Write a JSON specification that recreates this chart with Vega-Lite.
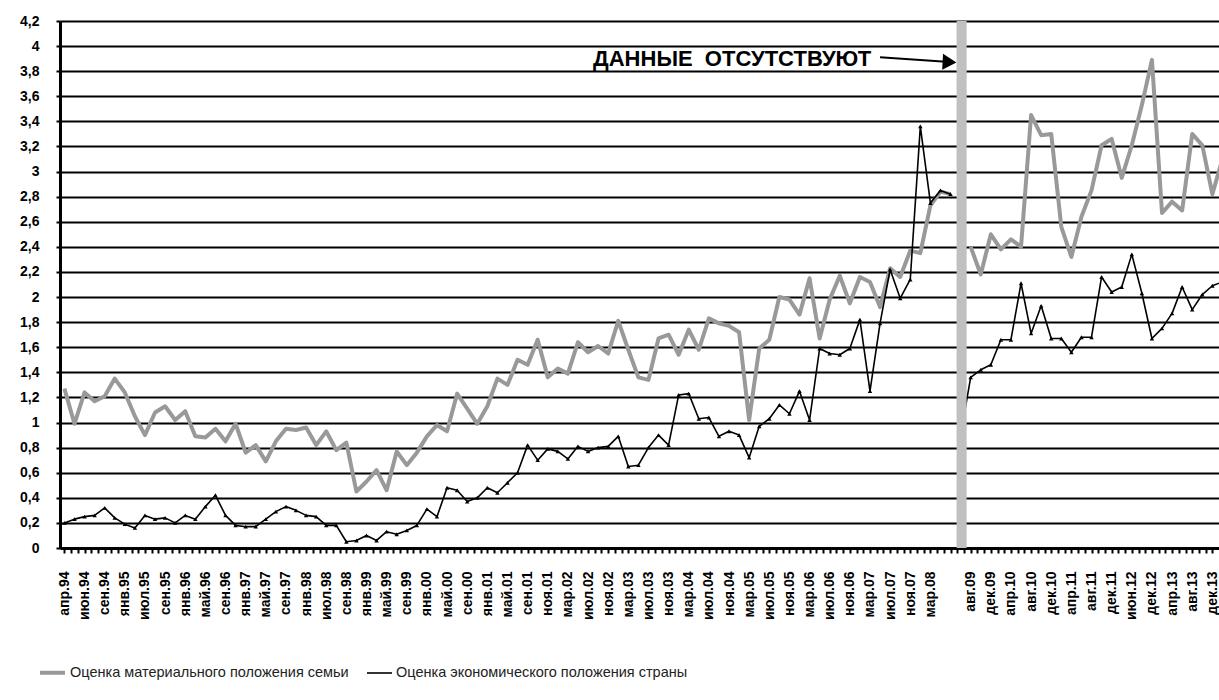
{
  "$schema": "https://vega.github.io/schema/vega-lite/v6.json",
  "width": 1159,
  "height": 527,
  "autosize": "none",
  "padding": {"left": 60, "top": 21, "right": 0, "bottom": 152},
  "background": "white",
  "config": {
    "view": {"stroke": null},
    "font": "Liberation Sans"
  },
  "resolve": {"axis": {"x": "independent", "y": "independent"}},
  "datasets": {
    "survey": [
      {"k":0,"fam":1.27,"eco":0.20,"seg":"a"},
      {"k":1,"fam":0.99,"eco":0.23,"seg":"a"},
      {"k":2,"fam":1.24,"eco":0.25,"seg":"a"},
      {"k":3,"fam":1.17,"eco":0.26,"seg":"a"},
      {"k":4,"fam":1.21,"eco":0.32,"seg":"a"},
      {"k":5,"fam":1.35,"eco":0.24,"seg":"a"},
      {"k":6,"fam":1.24,"eco":0.19,"seg":"a"},
      {"k":7,"fam":1.05,"eco":0.16,"seg":"a"},
      {"k":8,"fam":0.90,"eco":0.26,"seg":"a"},
      {"k":9,"fam":1.08,"eco":0.23,"seg":"a"},
      {"k":10,"fam":1.13,"eco":0.24,"seg":"a"},
      {"k":11,"fam":1.02,"eco":0.20,"seg":"a"},
      {"k":12,"fam":1.09,"eco":0.26,"seg":"a"},
      {"k":13,"fam":0.89,"eco":0.23,"seg":"a"},
      {"k":14,"fam":0.88,"eco":0.33,"seg":"a"},
      {"k":15,"fam":0.95,"eco":0.42,"seg":"a"},
      {"k":16,"fam":0.85,"eco":0.26,"seg":"a"},
      {"k":17,"fam":0.99,"eco":0.18,"seg":"a"},
      {"k":18,"fam":0.76,"eco":0.17,"seg":"a"},
      {"k":19,"fam":0.82,"eco":0.17,"seg":"a"},
      {"k":20,"fam":0.69,"eco":0.23,"seg":"a"},
      {"k":21,"fam":0.85,"eco":0.29,"seg":"a"},
      {"k":22,"fam":0.95,"eco":0.33,"seg":"a"},
      {"k":23,"fam":0.94,"eco":0.30,"seg":"a"},
      {"k":24,"fam":0.96,"eco":0.26,"seg":"a"},
      {"k":25,"fam":0.82,"eco":0.25,"seg":"a"},
      {"k":26,"fam":0.93,"eco":0.18,"seg":"a"},
      {"k":27,"fam":0.78,"eco":0.18,"seg":"a"},
      {"k":28,"fam":0.84,"eco":0.05,"seg":"a"},
      {"k":29,"fam":0.45,"eco":0.06,"seg":"a"},
      {"k":30,"fam":0.53,"eco":0.10,"seg":"a"},
      {"k":31,"fam":0.62,"eco":0.06,"seg":"a"},
      {"k":32,"fam":0.46,"eco":0.13,"seg":"a"},
      {"k":33,"fam":0.77,"eco":0.11,"seg":"a"},
      {"k":34,"fam":0.66,"eco":0.14,"seg":"a"},
      {"k":35,"fam":0.76,"eco":0.18,"seg":"a"},
      {"k":36,"fam":0.89,"eco":0.31,"seg":"a"},
      {"k":37,"fam":0.98,"eco":0.25,"seg":"a"},
      {"k":38,"fam":0.93,"eco":0.48,"seg":"a"},
      {"k":39,"fam":1.23,"eco":0.46,"seg":"a"},
      {"k":40,"fam":1.11,"eco":0.37,"seg":"a"},
      {"k":41,"fam":0.99,"eco":0.40,"seg":"a"},
      {"k":42,"fam":1.13,"eco":0.48,"seg":"a"},
      {"k":43,"fam":1.35,"eco":0.44,"seg":"a"},
      {"k":44,"fam":1.30,"eco":0.52,"seg":"a"},
      {"k":45,"fam":1.50,"eco":0.60,"seg":"a"},
      {"k":46,"fam":1.46,"eco":0.82,"seg":"a"},
      {"k":47,"fam":1.66,"eco":0.70,"seg":"a"},
      {"k":48,"fam":1.36,"eco":0.79,"seg":"a"},
      {"k":49,"fam":1.43,"eco":0.77,"seg":"a"},
      {"k":50,"fam":1.39,"eco":0.71,"seg":"a"},
      {"k":51,"fam":1.64,"eco":0.81,"seg":"a"},
      {"k":52,"fam":1.56,"eco":0.77,"seg":"a"},
      {"k":53,"fam":1.61,"eco":0.80,"seg":"a"},
      {"k":54,"fam":1.55,"eco":0.81,"seg":"a"},
      {"k":55,"fam":1.81,"eco":0.89,"seg":"a"},
      {"k":56,"fam":1.58,"eco":0.65,"seg":"a"},
      {"k":57,"fam":1.36,"eco":0.66,"seg":"a"},
      {"k":58,"fam":1.34,"eco":0.80,"seg":"a"},
      {"k":59,"fam":1.67,"eco":0.90,"seg":"a"},
      {"k":60,"fam":1.70,"eco":0.82,"seg":"a"},
      {"k":61,"fam":1.54,"eco":1.22,"seg":"a"},
      {"k":62,"fam":1.74,"eco":1.23,"seg":"a"},
      {"k":63,"fam":1.58,"eco":1.03,"seg":"a"},
      {"k":64,"fam":1.83,"eco":1.04,"seg":"a"},
      {"k":65,"fam":1.79,"eco":0.89,"seg":"a"},
      {"k":66,"fam":1.77,"eco":0.93,"seg":"a"},
      {"k":67,"fam":1.72,"eco":0.90,"seg":"a"},
      {"k":68,"fam":1.02,"eco":0.72,"seg":"a"},
      {"k":69,"fam":1.59,"eco":0.97,"seg":"a"},
      {"k":70,"fam":1.66,"eco":1.03,"seg":"a"},
      {"k":71,"fam":2.00,"eco":1.14,"seg":"a"},
      {"k":72,"fam":1.98,"eco":1.07,"seg":"a"},
      {"k":73,"fam":1.86,"eco":1.25,"seg":"a"},
      {"k":74,"fam":2.15,"eco":1.02,"seg":"a"},
      {"k":75,"fam":1.67,"eco":1.59,"seg":"a"},
      {"k":76,"fam":1.98,"eco":1.55,"seg":"a"},
      {"k":77,"fam":2.17,"eco":1.54,"seg":"a"},
      {"k":78,"fam":1.95,"eco":1.59,"seg":"a"},
      {"k":79,"fam":2.16,"eco":1.82,"seg":"a"},
      {"k":80,"fam":2.12,"eco":1.25,"seg":"a"},
      {"k":81,"fam":1.92,"eco":1.79,"seg":"a"},
      {"k":82,"fam":2.23,"eco":2.22,"seg":"a"},
      {"k":83,"fam":2.16,"eco":1.99,"seg":"a"},
      {"k":84,"fam":2.37,"eco":2.14,"seg":"a"},
      {"k":85,"fam":2.35,"eco":3.36,"seg":"a"},
      {"k":86,"fam":2.73,"eco":2.75,"seg":"a"},
      {"k":87,"fam":2.84,"eco":2.85,"seg":"a"},
      {"k":88,"fam":2.82,"eco":2.82,"seg":"a"},
      {"k":89,"fam":null,"eco":0.90,"seg":"b"},
      {"k":90,"fam":2.40,"eco":1.36,"seg":"b"},
      {"k":91,"fam":2.18,"eco":1.42,"seg":"b"},
      {"k":92,"fam":2.50,"eco":1.46,"seg":"b"},
      {"k":93,"fam":2.38,"eco":1.66,"seg":"b"},
      {"k":94,"fam":2.46,"eco":1.66,"seg":"b"},
      {"k":95,"fam":2.40,"eco":2.11,"seg":"b"},
      {"k":96,"fam":3.45,"eco":1.71,"seg":"b"},
      {"k":97,"fam":3.29,"eco":1.93,"seg":"b"},
      {"k":98,"fam":3.30,"eco":1.67,"seg":"b"},
      {"k":99,"fam":2.56,"eco":1.67,"seg":"b"},
      {"k":100,"fam":2.32,"eco":1.56,"seg":"b"},
      {"k":101,"fam":2.64,"eco":1.68,"seg":"b"},
      {"k":102,"fam":2.85,"eco":1.68,"seg":"b"},
      {"k":103,"fam":3.21,"eco":2.16,"seg":"b"},
      {"k":104,"fam":3.26,"eco":2.04,"seg":"b"},
      {"k":105,"fam":2.95,"eco":2.08,"seg":"b"},
      {"k":106,"fam":3.21,"eco":2.34,"seg":"b"},
      {"k":107,"fam":3.53,"eco":2.03,"seg":"b"},
      {"k":108,"fam":3.89,"eco":1.67,"seg":"b"},
      {"k":109,"fam":2.67,"eco":1.75,"seg":"b"},
      {"k":110,"fam":2.76,"eco":1.87,"seg":"b"},
      {"k":111,"fam":2.69,"eco":2.08,"seg":"b"},
      {"k":112,"fam":3.30,"eco":1.90,"seg":"b"},
      {"k":113,"fam":3.21,"eco":2.02,"seg":"b"},
      {"k":114,"fam":2.82,"eco":2.09,"seg":"b"},
      {"k":115,"fam":3.10,"eco":2.12,"seg":"b"}
    ]
  },
  "layer": [
    {
      "data": {"name": "survey"},
      "transform": [{"fold": ["fam", "eco"], "as": ["series", "value"]}],
      "mark": {"type": "line", "clip": true, "strokeJoin": "round"},
      "encoding": {
        "x": {
          "field": "k",
          "type": "quantitative",
          "scale": {"domain": [-0.437, 114.66], "nice": false, "zero": false},
          "axis": {
            "title": null,
            "grid": false,
            "domainColor": "#000000",
            "domainWidth": 3,
            "tickColor": "#000000",
            "tickWidth": 2,
            "tickSize": 5,
            "labelAngle": 270,
            "labelAlign": "right",
            "labelBaseline": "middle",
            "labelPadding": 18,
            "labelOverlap": false,
            "labelBound": false,
            "labelFlush": false,
            "labelFont": "Liberation Sans",
            "labelFontWeight": "bold",
            "labelFontSize": 14,
            "labelColor": "#000000",
            "values": [0,0.6667,1.3333,2,2.6667,3.3333,4,4.6667,5.3333,6,6.6667,7.3333,8,8.6667,9.3333,10,10.6667,11.3333,12,12.6667,13.3333,14,14.6667,15.3333,16,16.6667,17.3333,18,18.6667,19.3333,20,20.6667,21.3333,22,22.6667,23.3333,24,24.6667,25.3333,26,26.6667,27.3333,28,28.6667,29.3333,30,30.6667,31.3333,32,32.6667,33.3333,34,34.6667,35.3333,36,36.6667,37.3333,38,38.6667,39.3333,40,40.6667,41.3333,42,42.6667,43.3333,44,44.6667,45.3333,46,46.6667,47.3333,48,48.6667,49.3333,50,50.6667,51.3333,52,52.6667,53.3333,54,54.6667,55.3333,56,56.6667,57.3333,58,58.6667,59.3333,60,60.6667,61.3333,62,62.6667,63.3333,64,64.6667,65.3333,66,66.6667,67.3333,68,68.6667,69.3333,70,70.6667,71.3333,72,72.6667,73.3333,74,74.6667,75.3333,76,76.6667,77.3333,78,78.6667,79.3333,80,80.6667,81.3333,82,82.6667,83.3333,84,84.6667,85.3333,86,86.6667,87.3333,88,88.6667,89.3333,90,90.6667,91.3333,92,92.6667,93.3333,94,94.6667,95.3333,96,96.6667,97.3333,98,98.6667,99.3333,100,100.6667,101.3333,102,102.6667,103.3333,104,104.6667,105.3333,106,106.6667,107.3333,108,108.6667,109.3333,110,110.6667,111.3333,112,112.6667,113.3333,114],
            "labelExpr": "abs(datum.value - 2*round(datum.value/2)) < 0.01 ? ['апр.94','июн.94','сен.94','янв.95','июл.95','сен.95','янв.96','май.96','сен.96','янв.97','май.97','сен.97','янв.98','июл.98','сен.98','янв.99','май.99','сен.99','янв.00','май.00','сен.00','янв.01','май.01','сен.01','ноя.01','мар.02','июл.02','ноя.02','мар.03','июл.03','ноя.03','мар.04','июл.04','ноя.04','мар.05','июл.05','ноя.05','мар.06','июл.06','ноя.06','мар.07','июл.07','ноя.07','мар.08','','авг.09','дек.09','апр.10','авг.10','дек.10','апр.11','авг.11','дек.11','июн.12','дек.12','апр.13','авг.13','дек.13'][round(datum.value/2)] : ''"
          }
        },
        "y": {
          "field": "value",
          "type": "quantitative",
          "scale": {"domain": [0, 4.2], "nice": false, "zero": true},
          "axis": {
            "title": null,
            "values": [0,0.2,0.4,0.6,0.8,1,1.2,1.4,1.6,1.8,2,2.2,2.4,2.6,2.8,3,3.2,3.4,3.6,3.8,4,4.2],
            "labelExpr": "replace(format(datum.value, '.1~f'), '.', ',')",
            "grid": true,
            "gridColor": "#000000",
            "gridWidth": 2,
            "gridOpacity": 1,
            "domainColor": "#000000",
            "domainWidth": 3,
            "tickColor": "#000000",
            "tickWidth": 2,
            "tickSize": 4,
            "labelPadding": 17,
            "labelOverlap": false,
            "labelFont": "Liberation Sans",
            "labelFontWeight": "bold",
            "labelFontSize": 14,
            "labelColor": "#000000"
          }
        },
        "color": {
          "field": "series",
          "type": "nominal",
          "scale": {"domain": ["fam", "eco"], "range": ["#999999", "#000000"]},
          "legend": {
            "title": null,
            "orient": "none",
            "legendX": -22,
            "legendY": 637,
            "direction": "horizontal",
            "columnPadding": 14,
            "symbolType": "stroke",
            "symbolSize": 625,
            "symbolStrokeWidth": 3,
            "labelOffset": 3,
            "labelFont": "Liberation Sans",
            "labelFontSize": 14.5,
            "labelColor": "#222222",
            "labelLimit": 500,
            "labelExpr": "datum.label == 'fam' ? 'Оценка материального положения семьи' : 'Оценка экономического положения страны'"
          }
        },
        "strokeWidth": {
          "field": "series",
          "type": "nominal",
          "scale": {"domain": ["fam", "eco"], "range": [4, 1.6]},
          "legend": null
        },
        "detail": {"field": "seg", "type": "nominal"}
      }
    },
    {
      "data": {"name": "survey"},
      "mark": {"type": "point", "shape": "triangle-up", "filled": true, "color": "#000000", "size": 20, "opacity": 1, "clip": true},
      "encoding": {
        "x": {"field": "k", "type": "quantitative", "axis": null},
        "y": {"field": "eco", "type": "quantitative", "axis": null}
      }
    },
    {
      "data": {"values": [{}]},
      "mark": {"type": "rect", "color": "#c0c0c0"},
      "encoding": {
        "x": {"datum": 88.6, "type": "quantitative", "axis": null},
        "x2": {"datum": 89.6},
        "y": {"datum": 0, "type": "quantitative", "axis": null},
        "y2": {"datum": 4.2}
      }
    },
    {
      "data": {"values": [{}]},
      "mark": {"type": "text", "text": "ДАННЫЕ\u00a0\u00a0ОТСУТСТВУЮТ", "align": "left", "baseline": "middle", "fontWeight": "bold", "fontSize": 22, "font": "Liberation Sans", "color": "#000000"},
      "encoding": {
        "x": {"datum": 52.5, "type": "quantitative", "axis": null},
        "y": {"datum": 3.9, "type": "quantitative", "axis": null}
      }
    },
    {
      "data": {"values": [{}]},
      "mark": {"type": "rule", "color": "#000000", "strokeWidth": 2},
      "encoding": {
        "x": {"datum": 81.0, "type": "quantitative", "axis": null},
        "x2": {"datum": 87.9},
        "y": {"datum": 3.912, "type": "quantitative", "axis": null},
        "y2": {"datum": 3.873}
      }
    },
    {
      "data": {"values": [{}]},
      "mark": {"type": "point", "shape": "triangle-right", "filled": true, "color": "#000000", "size": 256, "opacity": 1, "angle": 3},
      "encoding": {
        "x": {"datum": 87.9, "type": "quantitative", "axis": null},
        "y": {"datum": 3.873, "type": "quantitative", "axis": null}
      }
    }
  ]
}
